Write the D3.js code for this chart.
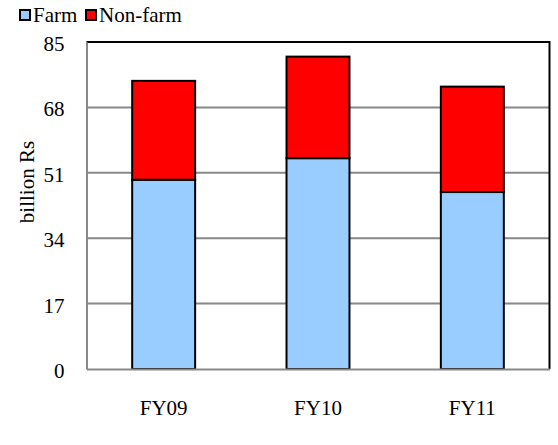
<!DOCTYPE html>
<html>
<head>
<meta charset="utf-8">
<script src="https://cdn.jsdelivr.net/npm/d3@7"></script>
<style>
  html, body { margin: 0; padding: 0; background: #fff; font-family: 'Liberation Serif', serif; }
  svg { display: block; }
</style>
</head>
<body>
<svg id="chart" width="558" height="445"></svg>
<script>
const categories = ["FY09", "FY10", "FY11"];
const farm = [49.2, 54.8, 46.0];
const nonFarm = [25.7, 26.4, 27.4];
const yTicks = [0, 17, 34, 51, 68, 85];
const seriesNames = ["Farm", "Non-farm"];
const seriesColors = ["#99ccff", "#ff0000"];

const FONT = "Liberation Serif";
const svg = d3.select("#chart");
const m = { left: 86.5, right: 549.5, top: 42, bottom: 369 };

const x = d3.scaleBand().domain(categories).range([m.left, m.right]).padding(0);
const y = d3.scaleLinear().domain([0, 85]).range([m.bottom, m.top]);

// gridlines
svg.append("g").selectAll("line").data(yTicks.filter(t => t > 0 && t < 85)).join("line")
  .attr("x1", m.left).attr("x2", m.right)
  .attr("y1", d => y(d)).attr("y2", d => y(d))
  .attr("stroke", "#888").attr("stroke-width", 2);

// top & right border
svg.append("path")
  .attr("d", `M${m.left},${m.top}H${m.right}V${m.bottom}`)
  .attr("fill", "none").attr("stroke", "#000").attr("stroke-width", 2);

// stacked data
const rows = categories.map((c, i) => ({ cat: c, Farm: farm[i], "Non-farm": nonFarm[i] }));
const stack = d3.stack().keys(seriesNames)(rows);

const bw = x.bandwidth() * 0.408;
const off = (x.bandwidth() - bw) / 2;

svg.append("g").selectAll("g").data(stack).join("g")
  .attr("fill", (d, i) => seriesColors[i])
  .selectAll("rect").data(d => d).join("rect")
  .attr("x", d => x(d.data.cat) + off)
  .attr("width", bw)
  .attr("y", d => y(d[1]))
  .attr("height", d => y(d[0]) - y(d[1]))
  .attr("stroke", "#000").attr("stroke-width", 2);

// left & bottom axes
const yAxis = d3.axisLeft(y).tickValues(yTicks).tickSize(0).tickPadding(22);
const gy = svg.append("g").attr("transform", `translate(${m.left},0)`).call(yAxis);
gy.attr("font-family", null).attr("font-size", null);
gy.select(".domain").attr("stroke", "#888").attr("stroke-width", 2);
gy.selectAll("text").attr("dy", "0.4em");

const xAxis = d3.axisBottom(x).tickSize(0).tickPadding(31);
const gx = svg.append("g").attr("transform", `translate(0,${m.bottom})`).call(xAxis);
gx.attr("font-family", null).attr("font-size", null);
gx.select(".domain").attr("stroke", "#888").attr("stroke-width", 2);

svg.selectAll("g.tick text").style("font-family", FONT).style("font-size", "21px").attr("fill", "#000");

// y title
svg.append("text")
  .attr("transform", `translate(34,182) rotate(-90)`)
  .attr("text-anchor", "middle")
  .style("font-family", FONT).style("font-size", "21px")
  .text("billion Rs");

// legend
const legX = [20, 86];
const lg = svg.append("g");
seriesNames.forEach((name, i) => {
  lg.append("rect").attr("x", legX[i]).attr("y", 10).attr("width", 10).attr("height", 10)
    .attr("fill", seriesColors[i]).attr("stroke", "#000").attr("stroke-width", 2);
  lg.append("text").attr("x", legX[i] + 13).attr("y", 22)
    .style("font-family", FONT).style("font-size", "21px").text(name);
});
</script>
</body>
</html>
